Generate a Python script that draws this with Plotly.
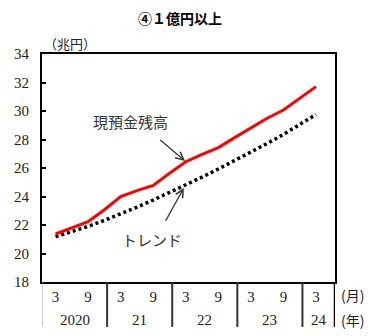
import plotly.graph_objects as go

# Quarter-end observations (trillion yen)
periods = ["2020-03", "2020-06", "2020-09", "2020-12",
           "2021-03", "2021-06", "2021-09", "2021-12",
           "2022-03", "2022-06", "2022-09", "2022-12",
           "2023-03", "2023-06", "2023-09", "2023-12",
           "2024-03"]
cash_balance = [21.37, 21.81, 22.23, 23.07, 23.99, 24.41, 24.78, 25.63,
                26.44, 26.96, 27.43, 28.13, 28.83, 29.49, 30.07, 30.89, 31.71]
trend = [21.18, 21.53, 21.90, 22.33, 22.78, 23.25, 23.75, 24.27,
         24.85, 25.36, 25.93, 26.51, 27.10, 27.72, 28.36, 29.05, 29.75]

years = [2020, 2021, 2022, 2023, 2024]
year_labels = ["2020", "21", "22", "23", "24"]
month_ticks = [3, 9]
y_ticks = [18, 20, 22, 24, 26, 28, 30, 32, 34]

BASE_YEAR = 2020


def month_index(year, month):
    # months counted from January of the base year
    return (year - BASE_YEAR) * 12 + (month - 1)


x_vals = [month_index(int(p[:4]), int(p[5:])) for p in periods]
x_min = month_index(years[0], 1) - 0.5
x_max = month_index(years[-1], 6) + 0.5

tick_x, tick_text = [], []
for yr in years:
    for m in month_ticks:
        xi = month_index(yr, m)
        if xi <= x_max:
            tick_x.append(xi)
            tick_text.append(str(m))

serif = "Liberation Serif, Times New Roman, serif"
cjk = "Noto Sans CJK JP"

fig = go.Figure()
fig.add_trace(go.Scatter(
    x=x_vals, y=trend, mode="lines",
    line=dict(color="black", width=3.5, dash="3px,3px"),
    hoverinfo="skip", showlegend=False,
))
fig.add_trace(go.Scatter(
    x=x_vals, y=cash_balance, mode="lines",
    line=dict(color="#ff0000", width=3),
    hoverinfo="skip", showlegend=False,
))

fig.update_layout(
    width=375, height=336,
    margin=dict(l=42, r=40, t=54, b=54),
    paper_bgcolor="white", plot_bgcolor="white",
    xaxis=dict(
        range=[x_min, x_max], tickmode="array", tickvals=tick_x, ticktext=tick_text,
        showgrid=False, zeroline=False, ticks="",
        showline=True, mirror=True, linecolor="black", linewidth=2,
        tickfont=dict(family=serif, size=15, color="#222"),
        ticklabelstandoff=0,
    ),
    yaxis=dict(
        range=[18, 34], tickmode="array", tickvals=y_ticks,
        showgrid=False, zeroline=False,
        ticks="inside", ticklen=4, tickwidth=1.5, tickcolor="black",
        showline=True, mirror=True, linecolor="black", linewidth=2,
        tickfont=dict(family=serif, size=15, color="#222"),
        ticklabelstandoff=8,
    ),
)

# Year separators under the plot area
sep_bottom = -0.197
for i, yr in enumerate(years):
    xb = month_index(yr, 1) - 0.5
    fig.add_shape(type="line", xref="x", yref="paper", x0=xb, x1=xb,
                  y0=0, y1=sep_bottom,
                  line=dict(color="#999" if i == 0 else "#333", width=1 if i == 0 else 2))
fig.add_shape(type="line", xref="x", yref="paper", x0=x_max, x1=x_max,
              y0=0, y1=sep_bottom, line=dict(color="black", width=2.5))

# Year labels centred on each year's visible span
for i, yr in enumerate(years):
    start = month_index(yr, 1) - 0.5
    end = min(month_index(yr + 1, 1) - 0.5, x_max)
    fig.add_annotation(x=(start + end) / 2, y=-0.167, xref="x", yref="paper",
                       text=year_labels[i], showarrow=False, yanchor="middle",
                       font=dict(family=serif, size=15, color="#222"))

fig.add_annotation(x=1.015, y=-0.057, xref="paper", yref="paper", text="(月)",
                   showarrow=False, xanchor="left", yanchor="middle",
                   font=dict(family=cjk, size=14, color="#222"))
fig.add_annotation(x=1.015, y=-0.167, xref="paper", yref="paper", text="(年)",
                   showarrow=False, xanchor="left", yanchor="middle",
                   font=dict(family=cjk, size=14, color="#222"))

# Title and unit
fig.add_annotation(x=0.471, y=1.158, xref="paper", yref="paper",
                   text="<b>④１億円以上</b>", showarrow=False, yanchor="middle",
                   font=dict(family=cjk, size=14, color="black"))
fig.add_annotation(x=0.0, y=1.048, xref="paper", yref="paper", text="（兆円）",
                   showarrow=False, xanchor="left", yanchor="middle",
                   font=dict(family=cjk, size=13, color="#222"))

# Series labels with leader arrows
k = periods.index("2022-03")
fig.add_annotation(x=15.9, y=29.23, xref="x", yref="y", text="現預金残高",
                   showarrow=False, font=dict(family=cjk, size=15, color="#333"))
fig.add_annotation(x=x_vals[k], y=cash_balance[k], xref="x", yref="y", text="",
                   showarrow=True, ax=-27, ay=-23, arrowhead=5, arrowsize=1.3,
                   arrowwidth=1.2, arrowcolor="#333", standoff=1)
fig.add_annotation(x=x_vals[k] - 6.2, y=trend[k] - 3.9, xref="x", yref="y",
                   text="トレンド", showarrow=False,
                   font=dict(family=cjk, size=15, color="#333"))
fig.add_annotation(x=x_vals[k], y=trend[k], xref="x", yref="y", text="",
                   showarrow=True, ax=-21, ay=38, arrowhead=5, arrowsize=1.3,
                   arrowwidth=1.2, arrowcolor="#333", standoff=4)

fig.write_html("out.html")
